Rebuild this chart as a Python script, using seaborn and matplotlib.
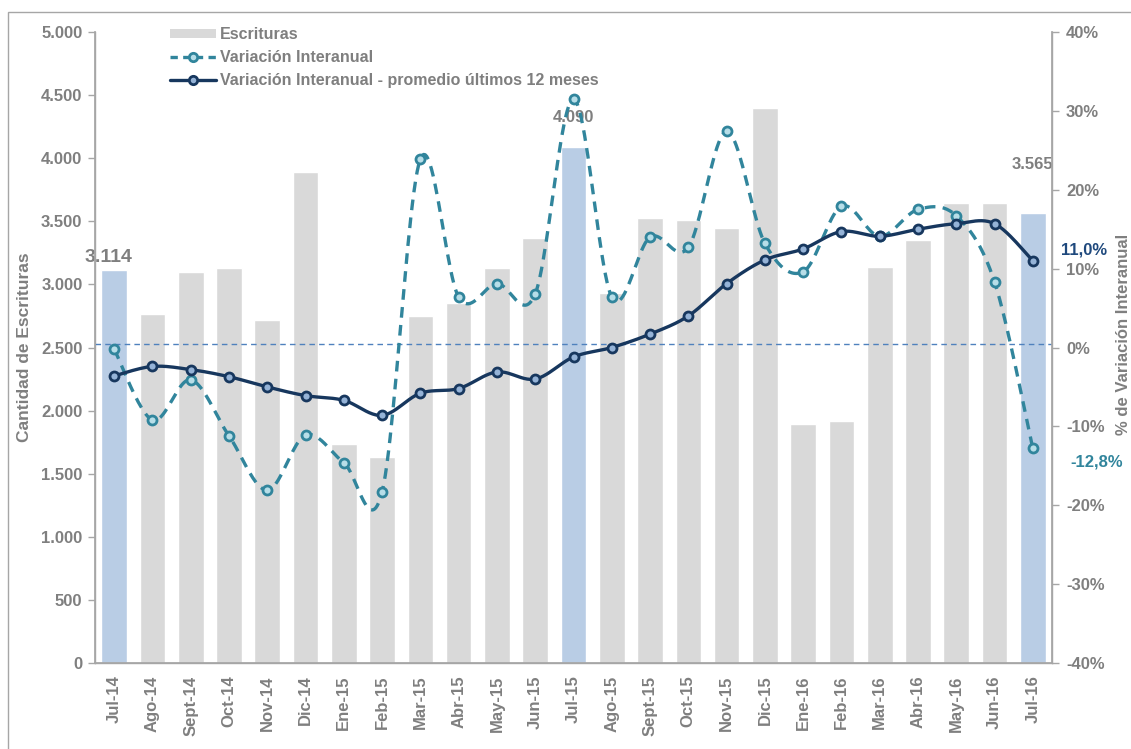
import numpy as np
import pandas as pd
import matplotlib
matplotlib.use("Agg")
import matplotlib.pyplot as plt
from matplotlib.lines import Line2D
from matplotlib.patches import Patch, Rectangle
import seaborn as sns

# Monthly deeds and year-on-year variation
meses = ['Jul-14', 'Ago-14', 'Sept-14', 'Oct-14', 'Nov-14', 'Dic-14', 'Ene-15',
         'Feb-15', 'Mar-15', 'Abr-15', 'May-15', 'Jun-15', 'Jul-15', 'Ago-15',
         'Sept-15', 'Oct-15', 'Nov-15', 'Dic-15', 'Ene-16', 'Feb-16', 'Mar-16',
         'Abr-16', 'May-16', 'Jun-16', 'Jul-16']
escrituras = [3114, 2763, 3101, 3127, 2718, 3891, 1735, 1630, 2750, 2850, 3133,
              3365, 4090, 2934, 3524, 3510, 3447, 4398, 1896, 1918, 3135, 3349,
              3645, 3642, 3565]
var_interanual = [-0.2, -9.2, -4.1, -11.2, -18.1, -11.1, -14.6, -18.3, 23.9, 6.4,
                  8.1, 6.8, 31.5, 6.4, 14.0, 12.7, 27.4, 13.2, 9.6, 17.9, 14.1,
                  17.5, 16.7, 8.3, -12.8]
prom_12m = [-3.6, -2.4, -2.8, -3.7, -5.0, -6.1, -6.7, -8.6, -5.8, -5.2, -3.1,
            -4.0, -1.2, 0.0, 1.7, 4.0, 8.1, 11.1, 12.5, 14.7, 14.1, 15.0, 15.7,
            15.7, 11.0]
destacados = ['Jul-14', 'Jul-15', 'Jul-16']
left_ticks = list(range(0, 5001, 500))
right_ticks = list(range(-40, 41, 10))

GRAY_TXT = '#7F7F7F'
BAR_GRAY = '#D9D9D9'
BAR_BLUE = '#B9CDE5'
TEAL = '#31859C'
NAVY = '#17375E'
FS = 12

sns.set_theme(style='white')
plt.rcParams['font.family'] = ['Liberation Sans', 'DejaVu Sans']
plt.rcParams['font.weight'] = 'bold'


def smooth(y, n=24):
    """Cardinal (Catmull-Rom style) curve through points at x = 0..len-1."""
    pts = np.column_stack([np.arange(len(y), dtype=float), np.asarray(y, float)])
    ext = np.vstack([pts[0], pts, pts[-1]])
    out = []
    t = np.linspace(0, 1, n, endpoint=False)[:, None]
    for i in range(len(pts) - 1):
        p0, p1, p2, p3 = ext[i], ext[i + 1], ext[i + 2], ext[i + 3]
        c1 = p1 + (p2 - p0) / 6.0
        c2 = p2 - (p3 - p1) / 6.0
        seg = ((1 - t) ** 3) * p1 + 3 * ((1 - t) ** 2) * t * c1 \
            + 3 * (1 - t) * t ** 2 * c2 + t ** 3 * p2
        out.append(seg)
    out.append(pts[-1][None, :])
    out = np.vstack(out)
    return out[:, 0], out[:, 1]


W, H = 1131, 749
fig = plt.figure(figsize=(W / 100, H / 100), dpi=100)
fig.patch.set_facecolor('white')
ax = fig.add_axes([95 / W, 1 - 663 / H, (1052 - 95) / W, (663 - 32) / H])

# Outer frame of the chart area
fig.add_artist(Rectangle((8 / W, -0.05), 1.2, 1.05 - 12 / H, transform=fig.transFigure,
                         fill=False, edgecolor='#A6A6A6', lw=1.0))

df = pd.DataFrame({'mes': meses, 'escrituras': escrituras})
palette = {m: (BAR_BLUE if m in destacados else BAR_GRAY) for m in meses}
sns.barplot(data=df, x='mes', y='escrituras', hue='mes', palette=palette,
            legend=False, width=0.67, saturation=1, ax=ax, zorder=1)

ax.set_xlim(-0.5, len(meses) - 0.5)
ax.set_ylim(0, 5000)
ax.set_yticks(left_ticks)
ax.set_yticklabels([f"{v:,}".replace(',', '.') for v in left_ticks])
ax.set_xlabel('')
ax.set_ylabel('Cantidad de Escrituras', color=GRAY_TXT, fontsize=12.5, fontweight='bold')
ax.yaxis.set_label_coords(-0.0655, 0.5)

ax.set_xticks(range(len(meses)))
ax.set_xticklabels(meses, rotation=90, color=GRAY_TXT, fontsize=FS, fontweight='bold')
ax.set_xticks(np.arange(-0.5, len(meses), 1.0), minor=True)
ax.tick_params(axis='x', which='major', length=0, pad=9)
ax.tick_params(axis='x', which='minor', length=5, direction='inout', color='#A6A6A6', width=1)
ax.tick_params(axis='y', length=5, direction='out', color='#A6A6A6', width=1,
               labelcolor=GRAY_TXT, labelsize=FS, pad=4, left=True)
for lab in ax.get_yticklabels():
    lab.set_fontweight('bold')

ax.spines['top'].set_visible(False)
for side in ['left', 'bottom', 'right']:
    ax.spines[side].set_color('#A6A6A6')
    ax.spines[side].set_linewidth(1)

# Value labels above highlighted bars
label_style = {'Jul-14': ((-4, 9), 14), 'Jul-15': ((0, 21), FS), 'Jul-16': ((0, 35), FS)}
for m in destacados:
    i = meses.index(m)
    off, size = label_style[m]
    ax.annotate(f"{escrituras[i]:,}".replace(',', '.'), (i, escrituras[i]),
                xytext=off, textcoords='offset points', annotation_clip=False,
                ha='center', va='center', color=GRAY_TXT, fontsize=size, fontweight='bold')

# Percentage axis
ax2 = ax.twinx()
ax2.set_ylim(-40, 40)
ax2.set_yticks(right_ticks)
ax2.set_yticklabels([f"{v}%" for v in right_ticks])
ax2.tick_params(axis='y', length=5, direction='out', color='#A6A6A6', width=1,
                labelcolor=GRAY_TXT, labelsize=FS, pad=5)
for lab in ax2.get_yticklabels():
    lab.set_fontweight('bold')
ax2.set_ylabel('% de Variación Interanual', color=GRAY_TXT, fontsize=12,
               fontweight='bold', rotation=90)
ax2.yaxis.set_label_coords(1.0665, 0.52)
ax2.spines['top'].set_visible(False)
for side in ['left', 'bottom', 'right']:
    ax2.spines[side].set_color('#A6A6A6')
ax2.grid(False)
ax.grid(False)

ax2.axhline(0.4, color='#4F81BD', lw=1.0, ls=(0, (4, 3)), zorder=1)

xs, ys = smooth(var_interanual)
sns.lineplot(x=xs, y=ys, sort=False, estimator=None, ax=ax2, color=TEAL, lw=2.4,
             linestyle=(0, (3.2, 2.2)), zorder=3)
sns.scatterplot(x=np.arange(len(meses)), y=var_interanual, ax=ax2, marker='o', s=42,
                facecolor='#B7DEE8', edgecolor=TEAL, linewidth=2, zorder=4)

xs2, ys2 = smooth(prom_12m)
sns.lineplot(x=xs2, y=ys2, sort=False, estimator=None, ax=ax2, color=NAVY, lw=2.4,
             zorder=5)
sns.scatterplot(x=np.arange(len(meses)), y=prom_12m, ax=ax2, marker='o', s=42,
                facecolor='#95B3D7', edgecolor=NAVY, linewidth=2, zorder=6)

n = len(meses) - 1
ax2.annotate(f"{prom_12m[n]:.1f}%".replace('.', ','), (n, prom_12m[n]),
             xytext=(37, 8), textcoords='offset points', ha='center', va='center',
             color='#1F497D', fontsize=FS, fontweight='bold', annotation_clip=False)
ax2.annotate(f"{var_interanual[n]:.1f}%".replace('.', ','), (n, var_interanual[n]),
             xytext=(46, -10), textcoords='offset points', ha='center', va='center',
             color=TEAL, fontsize=FS, fontweight='bold', annotation_clip=False)
ax2.set_xlim(-0.5, len(meses) - 0.5)

handles = [
    Patch(facecolor=BAR_GRAY, edgecolor='none'),
    Line2D([0], [0], color=TEAL, lw=2.4, linestyle=(0, (2.2, 1.6)), marker='o',
           markersize=6, markerfacecolor='#B7DEE8', markeredgecolor=TEAL, markeredgewidth=2),
    Line2D([0], [0], color=NAVY, lw=2.4, marker='o', markersize=6,
           markerfacecolor='#95B3D7', markeredgecolor=NAVY, markeredgewidth=2),
]
labels = ['Escrituras', 'Variación Interanual',
          'Variación Interanual - promedio últimos 12 meses']
leg = ax2.legend(handles, labels, loc='upper left', bbox_to_anchor=(170 / W, 1 - 27 / H),
                 bbox_transform=fig.transFigure, frameon=False, handlelength=2.85,
                 handleheight=0.55, handletextpad=0.3, labelspacing=0.5,
                 borderpad=0, borderaxespad=0, prop={'size': 11.5, 'weight': 'bold'})
for t in leg.get_texts():
    t.set_color(GRAY_TXT)

fig.savefig('out.png', dpi=100, facecolor='white')
